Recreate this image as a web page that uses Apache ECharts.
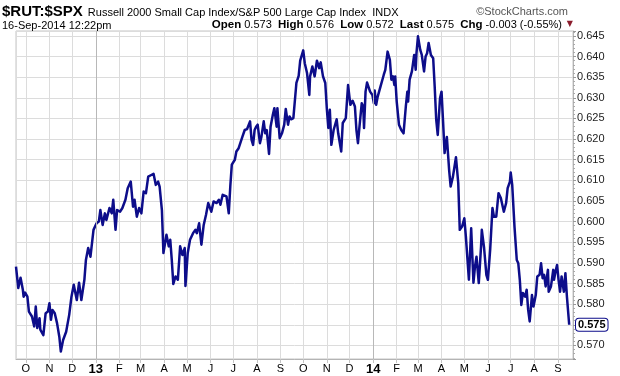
<!DOCTYPE html>
<html>
<head>
<meta charset="utf-8">
<script src="https://cdn.jsdelivr.net/npm/echarts@6/dist/echarts.min.js"></script>
<style>
  html, body { margin: 0; padding: 0; background: #fff; }
  #chart { width: 620px; height: 376px; }
</style>
</head>
<body>
<div id="chart"></div>
<script>
// $RUT:$SPX daily ratio.
// x = calendar days after 18-Sep-2012, y = ratio
const startDate = Date.UTC(2012, 8, 18);
const endDate = Date.UTC(2014, 8, 21);
const DAY = 86400000;

const dayOffsets = [
  0, 3, 6, 9, 10, 12, 15, 17, 21, 24,
  26, 28, 31, 32, 36, 39, 42, 44, 46, 48,
  51, 54, 57, 59, 62, 66, 68, 70, 73, 76,
  80, 83, 86, 90, 92, 95, 98, 102, 106, 109,
  111, 114, 117, 119, 123, 126, 128, 131, 133, 137,
  140, 144, 147, 151, 154, 156, 159, 162, 165, 168,
  171, 174, 178, 181, 184, 187, 189, 192, 194, 198,
  201, 203, 205, 207, 210, 213, 216, 219, 222, 223,
  226, 229, 233, 236, 238, 241, 244, 247, 250, 253,
  257, 260, 264, 267, 269, 272, 277, 280, 282, 284,
  288, 290, 293, 298, 301, 304, 306, 308, 310, 312,
  314, 316, 318, 321, 323, 326, 328, 330, 333, 335,
  338, 340, 343, 344, 346, 347, 350, 353, 355, 358,
  360, 362, 365, 369, 372, 374, 378, 380, 383, 386,
  387, 390, 393, 396, 399, 401, 404, 407, 409, 411,
  413, 415, 418, 422, 424, 428, 430, 434, 437, 440,
  443, 446, 448, 450, 452, 455, 457, 458, 460, 462,
  464, 466, 469, 471, 472, 474, 476, 479, 481, 484,
  486, 489, 492, 494, 496, 498, 499, 501, 504, 507,
  510, 513, 515, 516, 518, 521, 524, 526, 527, 529,
  532, 534, 537, 539, 541, 543, 546, 549, 551, 553,
  555, 558, 560, 562, 564, 567, 570, 572, 575, 577,
  579, 582, 584, 587, 590, 592, 596, 599, 602, 604,
  606, 609, 612, 613, 616, 619, 621, 624, 627, 629,
  632, 635, 638, 640, 642, 645, 647, 650, 651, 653,
  656, 659, 661, 663, 665, 667, 670, 672, 674, 676,
  679, 681, 684, 686, 689, 691, 693, 695, 697, 700,
  701, 704, 707, 708, 710, 712, 714, 716, 718, 721,
  723, 725, 728
];

const ratios = [
  0.5891, 0.5839, 0.5864, 0.5835, 0.5818, 0.5828, 0.5818, 0.5782, 0.5770, 0.5746,
  0.5794, 0.5742, 0.5766, 0.5738, 0.5725, 0.5778, 0.5782, 0.5802, 0.5762, 0.5786,
  0.5778, 0.5754, 0.5721, 0.5685, 0.5713, 0.5733, 0.5730, 0.5774, 0.5818, 0.5847,
  0.5810, 0.5852, 0.5810, 0.5859, 0.5907, 0.5936, 0.5915, 0.5980, 0.5996, 0.6000,
  0.6028, 0.5992, 0.6020, 0.6004, 0.6033, 0.6020, 0.6053, 0.5980, 0.6028, 0.6024,
  0.6033, 0.6053, 0.6081, 0.6097, 0.6036, 0.6053, 0.6012, 0.6033, 0.6020, 0.6073,
  0.6069, 0.6109, 0.6113, 0.6116, 0.6089, 0.6097, 0.6085, 0.6028, 0.5924, 0.5968,
  0.5940, 0.5956, 0.5907, 0.5849, 0.5867, 0.5859, 0.5940, 0.5919, 0.5936, 0.5844,
  0.5924, 0.5956, 0.5972, 0.5980, 0.5972, 0.5996, 0.5944, 0.5992, 0.6016, 0.6045,
  0.6024, 0.6049, 0.6045, 0.6053, 0.6041, 0.6065, 0.6061, 0.6020, 0.6085, 0.6138,
  0.6150, 0.6170, 0.6178, 0.6206, 0.6222, 0.6224, 0.6227, 0.6243, 0.6198, 0.6186,
  0.6222, 0.6230, 0.6235, 0.6190, 0.6206, 0.6243, 0.6214, 0.6222, 0.6164, 0.6230,
  0.6259, 0.6275, 0.6230, 0.6275, 0.6275, 0.6202, 0.6214, 0.6235, 0.6273, 0.6235,
  0.6255, 0.6248, 0.6251, 0.6336, 0.6353, 0.6390, 0.6415, 0.6384, 0.6360, 0.6307,
  0.6352, 0.6376, 0.6352, 0.6390, 0.6372, 0.6386, 0.6352, 0.6336, 0.6275, 0.6227,
  0.6271, 0.6186, 0.6222, 0.6248, 0.6214, 0.6170, 0.6239, 0.6251, 0.6331, 0.6283,
  0.6293, 0.6279, 0.6222, 0.6190, 0.6230, 0.6287, 0.6279, 0.6227, 0.6315, 0.6337,
  0.6339, 0.6315, 0.6307, 0.6287, 0.6318, 0.6283, 0.6303, 0.6323, 0.6319, 0.6356,
  0.6368, 0.6412, 0.6392, 0.6344, 0.6352, 0.6331, 0.6352, 0.6291, 0.6235, 0.6222,
  0.6214, 0.6279, 0.6315, 0.6291, 0.6344, 0.6364, 0.6404, 0.6368, 0.6408, 0.6449,
  0.6416, 0.6404, 0.6364, 0.6400, 0.6408, 0.6433, 0.6404, 0.6396, 0.6327, 0.6247,
  0.6210, 0.6299, 0.6315, 0.6243, 0.6166, 0.6205, 0.6125, 0.6085, 0.6109, 0.6113,
  0.6156, 0.6093, 0.5980, 0.5988, 0.6008, 0.5964, 0.5859, 0.5984, 0.5852, 0.5891,
  0.5915, 0.5851, 0.5940, 0.5980, 0.5936, 0.5871, 0.5859, 0.5932, 0.6033, 0.6012,
  0.6012, 0.6069, 0.6057, 0.6061, 0.6024, 0.6045, 0.6081, 0.6097, 0.6119, 0.6089,
  0.5988, 0.5907, 0.5899, 0.5859, 0.5798, 0.5827, 0.5818, 0.5835, 0.5786, 0.5758,
  0.5822, 0.5794, 0.5822, 0.5867, 0.5871, 0.5899, 0.5863, 0.5871, 0.5843, 0.5883,
  0.5830, 0.5843, 0.5883, 0.5859, 0.5879, 0.5895, 0.5859, 0.5830, 0.5867, 0.5830,
  0.5875, 0.5818, 0.5750
];

const monthLetters = ['J', 'F', 'M', 'A', 'M', 'J', 'J', 'A', 'S', 'O', 'N', 'D'];
const yearStarts = [Date.UTC(2013, 0, 1), Date.UTC(2014, 0, 1)];
const lastValue = 0.575;

const FONT = 'Liberation Sans, Arial, sans-serif';
const lineColor = '#0d0d8a';

const seriesData = dayOffsets.map((d, i) => [startDate + d * DAY, ratios[i]]);

const chart = echarts.init(document.getElementById('chart'));

chart.setOption({
  useUTC: true,
  animation: false,
  backgroundColor: '#fff',
  textStyle: { fontFamily: FONT },
  title: [
    {
      left: 2, top: 3, padding: 0,
      text: '{t|$RUT:$SPX} {s|Russell 2000 Small Cap Index/S&P 500 Large Cap Index  INDX}',
      textStyle: {
        fontWeight: 'normal',
        rich: {
          t: { fontFamily: FONT, fontSize: 15, fontWeight: 'bold', color: '#000' },
          s: { fontFamily: FONT, fontSize: 11, fontWeight: 'normal', color: '#000', padding: [2, 0, 0, 0] }
        }
      }
    },
    {
      left: 2, top: 20, padding: 0,
      text: '16-Sep-2014 12:22pm',
      textStyle: { fontFamily: FONT, fontSize: 11, fontWeight: 'normal', color: '#000' }
    },
    {
      right: 52, top: 6, padding: 0,
      text: '©StockCharts.com',
      textStyle: { fontFamily: FONT, fontSize: 11, fontWeight: 'normal', color: '#555' }
    },
    {
      right: 58, top: 19, padding: 0,
      text: '{b|Open} 0.573  {b|High} 0.576  {b|Low} 0.572  {b|Last} 0.575  {b|Chg} -0.003 (-0.55%)',
      textStyle: {
        fontFamily: FONT, fontSize: 11, fontWeight: 'normal', color: '#000',
        rich: { b: { fontFamily: FONT, fontSize: 11.5, fontWeight: 'bold', color: '#000' } }
      }
    },
    {
      right: 47, top: 20, padding: 0,
      text: '▼',
      textStyle: { fontFamily: 'DejaVu Sans', fontSize: 8, fontWeight: 'normal', color: '#8b1c2c' }
    }
  ],
  grid: {
    left: 16, right: 47, top: 31, bottom: 17,
    show: true, borderColor: '#c4c4c4', borderWidth: 1
  },
  xAxis: {
    type: 'time',
    min: startDate,
    max: endDate,
    minInterval: 28 * DAY,
    maxInterval: 31 * DAY,
    axisLine: { lineStyle: { color: '#b4b4b4' } },
    axisTick: { show: true, length: 4, lineStyle: { color: '#c4c4c4' } },
    splitLine: { show: true, lineStyle: { color: '#dcdcdc', width: 1 } },
    axisLabel: {
      interval: 0,
      showMinLabel: false,
      showMaxLabel: false,
      hideOverlap: false,
      margin: 4,
      fontFamily: FONT,
      fontSize: 11,
      color: '#000',
      formatter: (value) => {
        const d = new Date(value);
        if (d.getUTCDate() !== 1) return '';
        const m = d.getUTCMonth();
        if (m === 0) return '{y|' + String(d.getUTCFullYear()).slice(2) + '}';
        return monthLetters[m];
      },
      rich: { y: { fontFamily: FONT, fontSize: 13, fontWeight: 'bold', color: '#000' } }
    }
  },
  yAxis: {
    type: 'value',
    position: 'right',
    min: 0.5667,
    max: 0.6462,
    splitNumber: 16,
    axisLine: { show: true, lineStyle: { color: '#b4b4b4' } },
    axisTick: { show: true, length: 3, lineStyle: { color: '#999' } },
    minorTick: { show: true, splitNumber: 5, length: 2, lineStyle: { color: '#aaa' } },
    splitLine: { show: true, lineStyle: { color: '#dcdcdc', width: 1 } },
    axisLabel: {
      showMinLabel: false,
      showMaxLabel: false,
      margin: 4,
      fontFamily: FONT,
      fontSize: 11,
      color: '#222',
      formatter: (v) => v.toFixed(3)
    },
    axisPointer: {
      show: true,
      type: 'none',
      status: 'show',
      value: lastValue,
      triggerTooltip: false,
      label: {
        show: true,
        margin: 3,
        padding: [1, 2, 0, 2],
        backgroundColor: '#fff',
        borderColor: lineColor,
        borderWidth: 1,
        color: '#000',
        fontFamily: FONT,
        fontSize: 11,
        fontWeight: 'bold',
        formatter: (p) => Number(p.value).toFixed(3)
      }
    }
  },
  series: [
    {
      // darker gridlines at the start of each year
      type: 'line',
      data: [],
      z: 1,
      silent: true,
      markLine: {
        silent: true,
        symbol: 'none',
        label: { show: false },
        lineStyle: { color: '#b8b8b8', type: 'solid', width: 1 },
        data: yearStarts.map(t => ({ xAxis: t }))
      }
    },
    {
      name: '$RUT:$SPX',
      type: 'line',
      z: 3,
      data: seriesData,
      symbol: 'none',
      lineStyle: { width: 2.5, color: lineColor, join: 'round' }
    }
  ]
});
</script>
</body>
</html>
